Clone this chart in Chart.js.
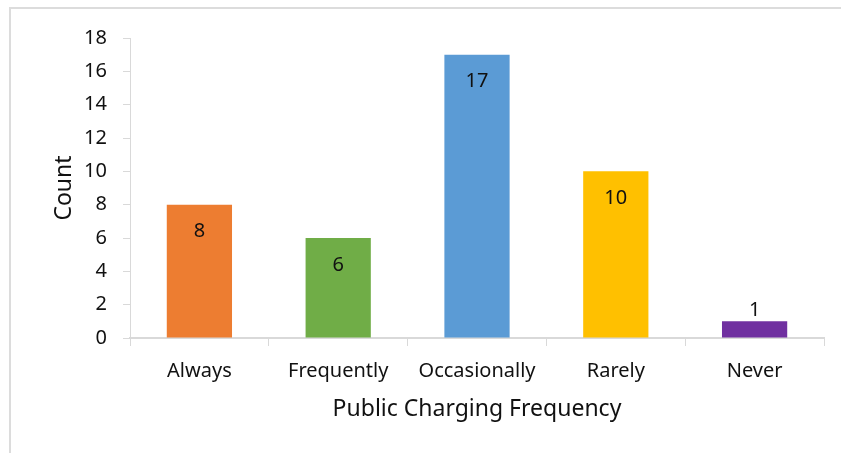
<!DOCTYPE html>
<html>
<head>
<meta charset="utf-8">
<script src="https://cdn.jsdelivr.net/npm/chart.js@4/dist/chart.umd.min.js"></script>
<style>
  html, body { margin: 0; padding: 0; background: #fff; }
  #wrap { position: relative; width: 841px; height: 453px; }
  #frame { position: absolute; left: 9px; top: 7px; right: 0; bottom: 0;
           border-top: 2px solid #dcdcdc; border-left: 2px solid #dcdcdc; pointer-events: none; }
  canvas { position: absolute; left: 0; top: 0; }
</style>
</head>
<body>
<div id="wrap">
  <canvas id="chart" width="841" height="453"></canvas>
  <div id="frame"></div>
</div>
<script>
// Survey responses: how often people use public charging
const categories = ['Always', 'Frequently', 'Occasionally', 'Rarely', 'Never'];
const counts = [8, 6, 17, 10, 1];
const barColors = ['#ED7D31', '#70AD47', '#5B9BD5', '#FFC000', '#7030A0'];
const yTicks = [0, 2, 4, 6, 8, 10, 12, 14, 16, 18];

const FONT = '"Noto Sans", "Open Sans", sans-serif';
const AXIS_GREY = '#d9d9d9';
const TEXT = '#111111';

// Value labels: inside the top of tall bars, above short ones
const valueLabels = {
  id: 'valueLabels',
  afterDatasetsDraw(chart) {
    const ctx = chart.ctx;
    const meta = chart.getDatasetMeta(0);
    ctx.save();
    ctx.font = '20px ' + FONT;
    ctx.fillStyle = TEXT;
    ctx.textAlign = 'center';
    ctx.textBaseline = 'middle';
    meta.data.forEach((bar, i) => {
      const v = counts[i];
      const y = v >= 3 ? bar.y + 27 : bar.y - 11;
      ctx.fillText(String(v), bar.x, y);
    });
    ctx.restore();
  }
};

new Chart(document.getElementById('chart'), {
  type: 'bar',
  data: {
    labels: categories,
    datasets: [{
      data: counts,
      backgroundColor: barColors,
      borderWidth: 0,
      categoryPercentage: 1.0,
      barPercentage: 0.47
    }]
  },
  options: {
    responsive: false,
    animation: false,
    layout: { padding: { left: 10, top: 38, right: 17, bottom: 0 } },
    plugins: {
      legend: { display: false },
      tooltip: { enabled: false }
    },
    scales: {
      x: {
        grid: { display: true, drawOnChartArea: false, drawTicks: true, tickLength: 8,
                color: AXIS_GREY, offset: true },
        border: { display: true, color: AXIS_GREY, width: 2 },
        ticks: { color: TEXT, font: { family: FONT, size: 20 }, padding: 13, maxRotation: 0 },
        title: { display: true, text: 'Public Charging Frequency', color: TEXT,
                 font: { family: FONT, size: 23 }, padding: { top: 0, bottom: 30 } },
        afterFit(scale) { scale.height = 115; }
      },
      y: {
        min: 0, max: 18,
        afterBuildTicks(scale) { scale.ticks = yTicks.map(v => ({ value: v })); },
        grid: { display: true, drawOnChartArea: false, drawTicks: true, tickLength: 7,
                color: AXIS_GREY },
        border: { display: true, color: AXIS_GREY, width: 1 },
        ticks: { color: TEXT, font: { family: FONT, size: 20 }, padding: 16 },
        title: { display: true, text: 'Count', color: TEXT,
                 font: { family: FONT, size: 23 }, padding: { top: 41, bottom: 0 } },
        afterFit(scale) { scale.width = 120; }
      }
    }
  },
  plugins: [valueLabels]
});
</script>
</body>
</html>
